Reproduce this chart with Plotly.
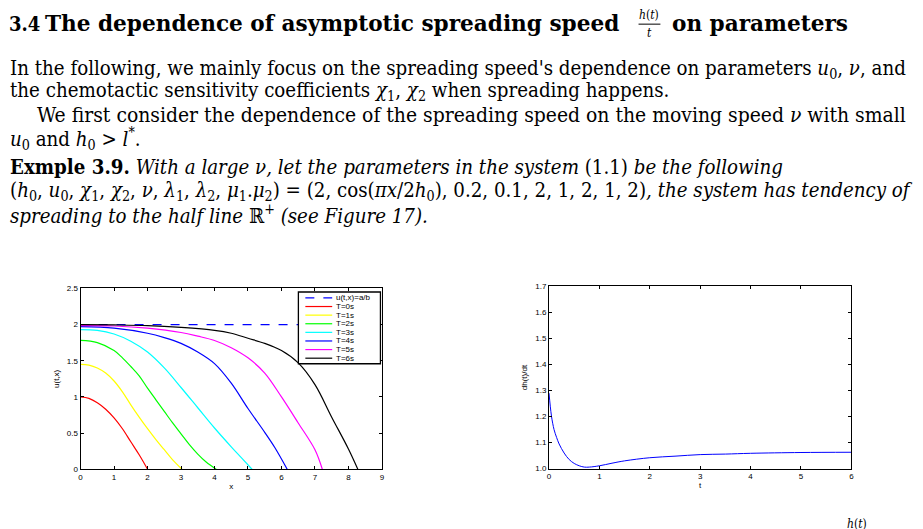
import plotly.graph_objects as go
from plotly.subplots import make_subplots

W, H = 923, 529

# ---------------- data ----------------
x_ref = [0, 9]
u_ref = [2, 2]

x_T0 = [0, 0.25, 0.5, 0.75, 1, 1.25, 1.5, 1.75, 2.0]
u_T0 = [1.0, 0.98, 0.92, 0.83, 0.71, 0.56, 0.38, 0.20, 0.0]

x_T1 = [0, 0.25, 0.5, 0.75, 1, 1.25, 1.5, 1.75, 2, 2.25, 2.5, 2.75, 3.03]
u_T1 = [1.45, 1.44, 1.40, 1.33, 1.22, 1.07, 0.89, 0.72, 0.56, 0.41, 0.27, 0.13, 0.0]

x_T2 = [0, 0.5, 1, 1.25, 1.5, 1.75, 2, 2.25, 2.5, 2.75, 3, 3.25, 3.5, 3.75, 4.05]
u_T2 = [1.78, 1.75, 1.64, 1.54, 1.42, 1.29, 1.12, 0.96, 0.80, 0.64, 0.49, 0.34, 0.21, 0.10, 0.0]

x_T3 = [0, 0.5, 1, 1.5, 2, 2.5, 3, 3.5, 4, 4.5, 4.8, 5.12]
u_T3 = [1.93, 1.92, 1.87, 1.77, 1.62, 1.40, 1.13, 0.85, 0.57, 0.31, 0.16, 0.0]

x_T4 = [0, 1, 2, 2.5, 3, 3.5, 4, 4.5, 5, 5.5, 5.8, 6.17]
u_T4 = [1.97, 1.95, 1.88, 1.82, 1.74, 1.62, 1.46, 1.19, 0.84, 0.51, 0.30, 0.0]

x_T5 = [0, 1, 2, 3, 3.5, 4, 4.5, 5, 5.5, 6, 6.5, 7, 7.22]
u_T5 = [1.985, 1.98, 1.95, 1.89, 1.84, 1.78, 1.68, 1.54, 1.33, 1.0, 0.64, 0.27, 0.0]

x_T6 = [0, 1, 2, 3, 4, 4.5, 5, 5.5, 6, 6.5, 7, 7.5, 8, 8.28]
u_T6 = [2.0, 1.995, 1.985, 1.96, 1.92, 1.88, 1.81, 1.74, 1.64, 1.47, 1.17, 0.72, 0.28, 0.0]

t_vals = [0, 0.025, 0.05, 0.1, 0.15, 0.2, 0.3, 0.4, 0.5, 0.6, 0.7, 0.8, 1, 1.25, 1.5, 2, 2.5, 3, 3.5, 4, 5, 6]
dh_vals = [1.29, 1.24, 1.2, 1.15, 1.12, 1.095, 1.06, 1.035, 1.02, 1.011, 1.006, 1.006, 1.011, 1.021, 1.030, 1.042, 1.048, 1.054, 1.056, 1.059, 1.062, 1.063]

x_ticks_left = [0, 1, 2, 3, 4, 5, 6, 7, 8, 9]
y_ticks_left = [0, 0.5, 1, 1.5, 2, 2.5]
x_ticks_right = [0, 1, 2, 3, 4, 5, 6]
y_ticks_right = [1, 1.1, 1.2, 1.3, 1.4, 1.5, 1.6, 1.7]

ref_label = "u(t,x)=a/b"
curve_names = ["T=0s", "T=1s", "T=2s", "T=3s", "T=4s", "T=5s", "T=6s"]
curve_x = [x_T0, x_T1, x_T2, x_T3, x_T4, x_T5, x_T6]
curve_u = [u_T0, u_T1, u_T2, u_T3, u_T4, u_T5, u_T6]
curve_colors = ["#ff0000", "#ffff00", "#00ff00", "#00ffff", "#0000ff", "#ff00ff", "#000000"]

# ---------------- figure ----------------
def px(x):
    return x / W

def py(y):
    return 1 - y / H

fig = make_subplots(rows=1, cols=2)

fig.add_trace(go.Scatter(x=x_ref, y=u_ref, mode="lines", name=ref_label, showlegend=False,
                         line=dict(color="#0000ff", width=1.2, dash="dash")), row=1, col=1)
for name, xs, us, col in zip(curve_names, curve_x, curve_u, curve_colors):
    fig.add_trace(go.Scatter(x=xs, y=us, mode="lines", name=name, line_shape="spline",
                             showlegend=False, line=dict(color=col, width=1.2)), row=1, col=1)

fig.add_trace(go.Scatter(x=t_vals, y=dh_vals, mode="lines", showlegend=False, line_shape="spline",
                         line=dict(color="#0000ff", width=1)), row=1, col=2)

tickfont = dict(family="Liberation Sans", size=8, color="black")
axis_common = dict(showline=True, linecolor="black", linewidth=1, mirror="ticks",
                   ticks="inside", ticklen=3, tickcolor="black", showgrid=False,
                   zeroline=False, tickfont=tickfont)

fig.update_xaxes(axis_common, row=1, col=1, range=[0, 9], tickvals=x_ticks_left,
                 domain=[px(79), px(382)],
                 title=dict(text="x", font=tickfont, standoff=2))
fig.update_yaxes(axis_common, row=1, col=1, range=[0, 2.5], tickvals=y_ticks_left,
                 domain=[py(473.3), py(289.3)],
                 title=dict(text="u(t,x)", font=tickfont, standoff=6))
fig.update_xaxes(axis_common, row=1, col=2, range=[0, 6], tickvals=x_ticks_right,
                 domain=[px(550), px(854)],
                 title=dict(text="t", font=tickfont, standoff=2))
fig.update_yaxes(axis_common, row=1, col=2, range=[1, 1.7], tickvals=y_ticks_right,
                 tickformat=".1f",
                 domain=[py(472.7), py(287.3)],
                 title=dict(text="dh(t)/dt", font=tickfont, standoff=6))

fig.update_layout(
    width=W, height=H, margin=dict(l=0, r=0, t=0, b=0),
    paper_bgcolor="white", plot_bgcolor="white", showlegend=False,
)

# ---------------- legend box (drawn as a key) ----------------
fig.add_shape(type="rect", xref="paper", yref="paper", x0=px(298), x1=px(380.5),
              y0=py(366), y1=py(293), fillcolor="white",
              line=dict(color="black", width=1.3), layer="above")
legend_labels = [ref_label] + curve_names
legend_colors = ["#0000ff"] + curve_colors
legend_dash = ["dash"] + ["solid"] * 7
for i, (lab, col, dsh) in enumerate(zip(legend_labels, legend_colors, legend_dash)):
    yy = 299 + i * 8.76
    fig.add_shape(type="line", xref="paper", yref="paper", x0=px(305), x1=px(332),
                  y0=py(yy), y1=py(yy), line=dict(color=col, width=1.2, dash=dsh), layer="above")
    fig.add_annotation(text=lab, x=px(334), y=py(yy), xref="paper", yref="paper",
                       xanchor="left", yanchor="middle", showarrow=False,
                       font=dict(family="Liberation Sans", size=8, color="black"))

serif = "DejaVu Serif Condensed"
txt_color = "black"

def text(s, x, y, size=20, anchor="left", family=serif):
    fig.add_annotation(text=s, x=px(x), y=py(y), xref="paper", yref="paper",
                       xanchor=anchor, yanchor="middle", showarrow=False,
                       font=dict(family=family, size=size, color=txt_color))

# title
bold = "DejaVu Serif"
text("<b>3.4</b>", 5, 20, size=20, family=serif)
text("<b>The dependence of asymptotic spreading speed</b>", 41, 20, size=21.6, family=bold)
text("<i>h</i>(<i>t</i>)", 651, 11, size=12, anchor="center")
text("<i>t</i>", 651, 29, size=12, anchor="center")
fig.add_shape(type="line", xref="paper", yref="paper", x0=px(640), x1=px(662),
              y0=py(20.5), y1=py(20.5), line=dict(color="black", width=1))
text("<b>on parameters</b>", 672, 20, size=21.6, family=bold)

# paragraph
text("In the following, we mainly focus on the spreading speed's dependence on parameters "
     "<i>u</i><sub>0</sub>, <i>ν</i>, and", 6, 66, size=20.3)
text("the chemotactic sensitivity coefficients <i>χ</i><sub>1</sub>, <i>χ</i><sub>2</sub> "
     "when spreading happens.", 6, 89, size=20.3)
text("We first consider the dependence of the spreading speed on the moving speed <i>ν</i> with small",
     33, 113, size=20.9)
text("<i>u</i><sub>0</sub> and <i>h</i><sub>0</sub> &gt; <i>l</i><sup>*</sup>.", 6, 137, size=20.3)
text("<b>Exmple 3.9.</b> <i>With a large ν, let the parameters in the system</i> (1.1) "
     "<i>be the following</i>", 6, 166, size=20.3)
text("(<i>h</i><sub>0</sub>, <i>u</i><sub>0</sub>, <i>χ</i><sub>1</sub>, <i>χ</i><sub>2</sub>, "
     "<i>ν</i>, <i>λ</i><sub>1</sub>, <i>λ</i><sub>2</sub>, <i>μ</i><sub>1</sub>.<i>μ</i><sub>2</sub>) = "
     "(2, cos(<i>πx</i>/2<i>h</i><sub>0</sub>), 0.2, 0.1, 2, 1, 2, 1, 2)<i>, the system has tendency of</i>",
     6, 190, size=20.3)
text("<i>spreading to the half line</i> ℝ<sup>+</sup> <i>(see Figure 17).</i>", 6, 214, size=20.3)

# cut-off fraction at the bottom right
text("<i>h</i>(<i>t</i>)", 860, 529, size=12, anchor="center")

fig.write_html("out.html")
